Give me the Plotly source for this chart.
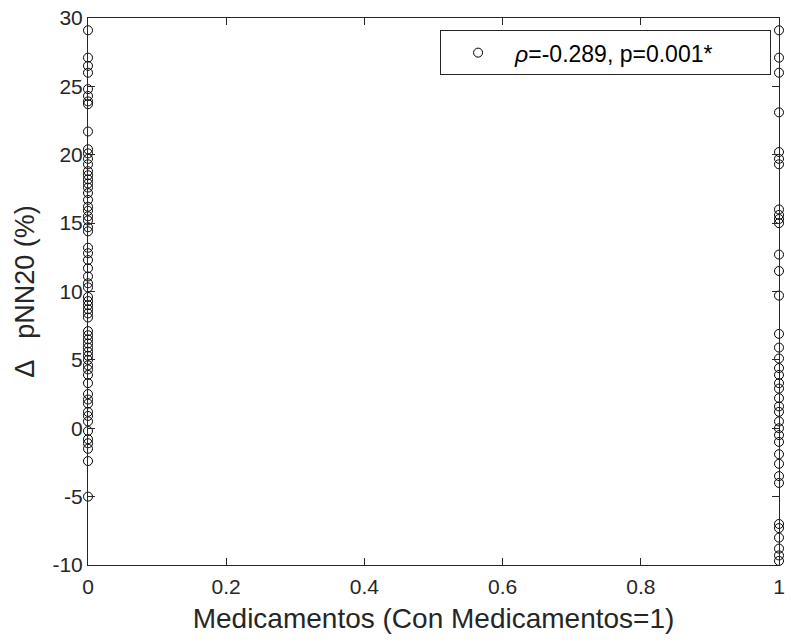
import plotly.graph_objects as go

# Data
y_sin_med = [29.1, 27.1, 26.5, 26.0, 24.8, 24.3, 23.9, 23.7, 21.7, 20.4, 20.1, 19.7,
             19.3, 18.8, 18.5, 18.2, 17.9, 17.6, 17.2, 16.7, 16.2, 15.9, 15.5, 15.2,
             14.7, 14.4, 13.2, 12.8, 12.3, 11.7, 11.1, 10.6, 10.3, 9.6, 9.3, 9.0,
             8.7, 8.4, 8.1, 7.1, 6.8, 6.5, 6.2, 5.9, 5.6, 5.3, 5.0, 4.6, 4.3, 3.9,
             3.3, 2.5, 2.1, 1.8, 1.2, 0.9, 0.5, -0.2, -0.8, -1.1, -1.5, -2.4, -5.0]
y_con_med = [29.1, 27.1, 26.0, 23.1, 20.2, 19.7, 19.3, 16.0, 15.6, 15.3, 15.0, 12.7,
             11.5, 9.7, 6.9, 5.9, 5.1, 4.4, 3.9, 3.3, 2.9, 2.2, 1.6, 1.2, 0.5, 0.0,
             -0.5, -1.0, -1.9, -2.6, -3.5, -4.0, -7.0, -7.3, -8.0, -8.8, -9.3, -9.7]
x_vals = [0] * len(y_sin_med) + [1] * len(y_con_med)
y_vals = y_sin_med + y_con_med

legend_label = "<i>ρ</i>=-0.289, p=0.001*" + "\u00a0" * 8
x_ticks = [0, 0.2, 0.4, 0.6, 0.8, 1]
x_ticktext = ["0", "0.2", "0.4", "0.6", "0.8", "1"]
y_ticks = [-10, -5, 0, 5, 10, 15, 20, 25, 30]
y_ticktext = ["-10", "-5", "0", "5", "10", "15", "20", "25", "30"]

FONT = "Liberation Sans, Arial, sans-serif"
AX = "#262626"

fig = go.Figure()
fig.add_trace(go.Scatter(
    x=x_vals, y=y_vals, mode="markers", name=legend_label,
    marker=dict(symbol="circle-open", size=9, color="black", line=dict(width=1, color="black")),
    cliponaxis=False, showlegend=True,
))

fig.update_layout(
    width=791, height=642,
    margin=dict(l=88, r=6, t=13, b=77),
    paper_bgcolor="white", plot_bgcolor="white",
    font=dict(family=FONT, color=AX),
    showlegend=True,
    legend=dict(
        x=(777 - 88) / 697, y=(565 - 48) / 552, xanchor="right", yanchor="middle",
        bgcolor="white", bordercolor=AX, borderwidth=1,
        font=dict(size=23, color="black", family=FONT),
        itemwidth=64,
    ),
    xaxis=dict(
        range=[0, 1], tickvals=x_ticks, ticktext=x_ticktext,
        showgrid=False, zeroline=False,
        showline=True, linecolor=AX, linewidth=1, mirror="ticks",
        ticks="inside", ticklen=7, tickcolor=AX,
        tickfont=dict(size=21, color=AX), ticklabelstandoff=3,
        title=dict(text="Medicamentos (Con Medicamentos=1)", font=dict(size=28, color=AX), standoff=11),
    ),
    yaxis=dict(
        range=[-10, 30], tickvals=y_ticks, ticktext=y_ticktext,
        showgrid=False, zeroline=False,
        showline=True, linecolor=AX, linewidth=1, mirror="ticks",
        ticks="inside", ticklen=7, tickcolor=AX,
        tickfont=dict(size=21, color=AX),
        title=dict(text="Δ   pNN20 (%)", font=dict(size=27, color=AX), standoff=9),
    ),
)

fig.write_html("out.html")
